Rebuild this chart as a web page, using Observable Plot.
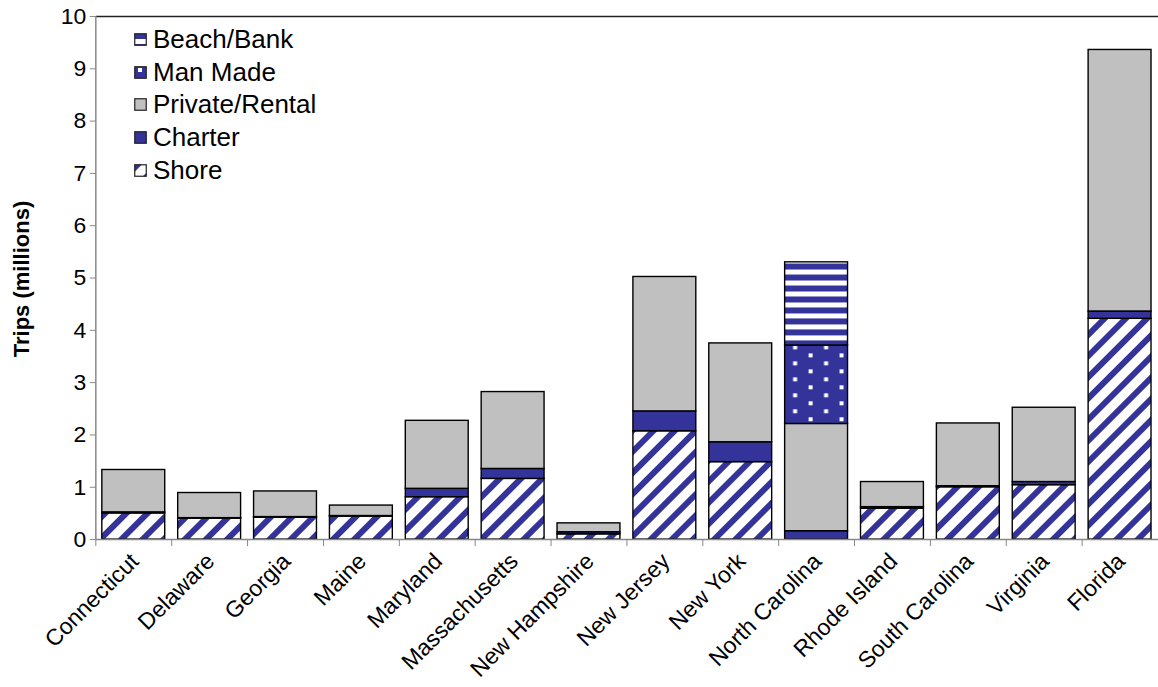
<!DOCTYPE html>
<html><head><meta charset="utf-8">
<script src="https://cdn.jsdelivr.net/npm/d3@7"></script>
<script src="https://cdn.jsdelivr.net/npm/@observablehq/plot@0.6"></script>
<style>
body{margin:0;overflow:hidden;background:#fff;font-family:"Liberation Sans",Arial,sans-serif;}
#wrap{position:relative;width:1158px;height:687px;overflow:hidden;}
#chart{position:absolute;left:0;top:0}
#legend{position:absolute;left:134px;top:23px;font-size:26px;color:#000}
.row{display:flex;align-items:center;height:32.8px}
.row svg{margin-right:6px;flex:none}
#ytitle{position:absolute;left:22px;top:279px;transform:translate(-50%,-50%) rotate(-90deg);font-weight:bold;font-size:22px;white-space:nowrap}
</style></head><body>
<div id="wrap">
<svg width="0" height="0" style="position:absolute">
  <defs>
    <pattern id="pShore" patternUnits="userSpaceOnUse" width="15" height="15" patternTransform="rotate(45)">
      <rect width="15" height="15" fill="#fff"/>
      <rect width="6" height="15" fill="#333399"/>
    </pattern>
    <pattern id="pBeach" patternUnits="userSpaceOnUse" width="11" height="11">
      <rect width="11" height="11" fill="#fff"/>
      <rect width="11" height="6" fill="#333399"/>
    </pattern>
    <pattern id="pMan" patternUnits="userSpaceOnUse" width="31" height="16" x="4" y="2">
      <rect width="31" height="16" fill="#333399"/>
      <rect x="0" y="0" width="4" height="4" fill="#fff"/>
      <rect x="15.5" y="8" width="4" height="4" fill="#fff"/>
    </pattern>
  </defs>
</svg>
<div id="chart"></div>
<div id="legend"></div>
<div id="ytitle">Trips (millions)</div>
</div>
<script>
const states = ["Connecticut","Delaware","Georgia","Maine","Maryland","Massachusetts","New Hampshire","New Jersey","New York","North Carolina","Rhode Island","South Carolina","Virginia","Florida"];
const shore         = [0.50,0.40,0.42,0.44,0.81,1.16,0.10,2.07,1.48,0.00,0.59,1.00,1.04,4.22];
const charter       = [0.02,0.01,0.01,0.01,0.16,0.19,0.04,0.38,0.38,0.16,0.03,0.02,0.06,0.14];
const privateRental = [0.81,0.48,0.49,0.20,1.30,1.47,0.17,2.57,1.89,2.05,0.48,1.20,1.42,5.00];
const manMade       = [0,0,0,0,0,0,0,0,0,1.50,0,0,0,0];
const beachBank     = [0,0,0,0,0,0,0,0,0,1.59,0,0,0,0];
const seriesNames = ["Shore","Charter","Private/Rental","Man Made","Beach/Bank"];
const seriesFills = ["url(#pShore)","#333399","#C0C0C0","url(#pMan)","url(#pBeach)"];
const yTicks = [0,1,2,3,4,5,6,7,8,9,10];

const seriesValues = [shore, charter, privateRental, manMade, beachBank];
const rows = [];
seriesNames.forEach((s, i) => states.forEach((st, j) => rows.push({state: st, type: s, value: seriesValues[i][j]})));

const W = 1160, H = 687, ML = 96, MT = 16, MB = 147;
const step = (W - ML) / states.length;

const plot = Plot.plot({
  width: W, height: H,
  marginLeft: ML, marginRight: 0, marginTop: MT, marginBottom: MB,
  style: {fontFamily: '"Liberation Sans", Arial, sans-serif', fontSize: "22px", color: "#000", background: "#fff"},
  x: {domain: states, paddingInner: 0.17, paddingOuter: 0.085, label: null},
  y: {domain: [0, 10], label: null},
  color: {domain: seriesNames, range: seriesFills},
  marks: [
    Plot.barY(rows, {x: "state", y: "value", fill: "type", stroke: "#000", strokeWidth: 1.4, order: seriesNames}),
    Plot.ruleY([0], {stroke: "#888", strokeWidth: 1.5}),
    Plot.ruleY([10], {stroke: "#222", strokeWidth: 1.5}),
    Plot.ruleX([states[0]], {dx: -step / 2, stroke: "#888", strokeWidth: 1.5}),
    Plot.axisY({ticks: yTicks, tickSize: 6, tickPadding: 4, stroke: "#888", fontSize: 23, label: null}),
    Plot.axisX({tickSize: 7, tickFormat: () => "", dx: -step / 2, stroke: "#888", label: null}),
    Plot.axisX({tickSize: 0, tickRotate: -45, tickPadding: 12, dx: 1, dy: 6, fontSize: 23, label: null})
  ]
});
document.getElementById("chart").appendChild(plot);

const legendOrder = ["Beach/Bank","Man Made","Private/Rental","Charter","Shore"];
const leg = document.getElementById("legend");
legendOrder.forEach(name => {
  const f = seriesFills[seriesNames.indexOf(name)];
  const row = document.createElement("div");
  row.className = "row";
  row.innerHTML = `<svg width="13" height="13"><rect x="0.75" y="0.75" width="11.5" height="11.5" fill="${f}" stroke="#222" stroke-width="1.2"/></svg><span>${name}</span>`;
  leg.appendChild(row);
});
</script>
</body></html>
